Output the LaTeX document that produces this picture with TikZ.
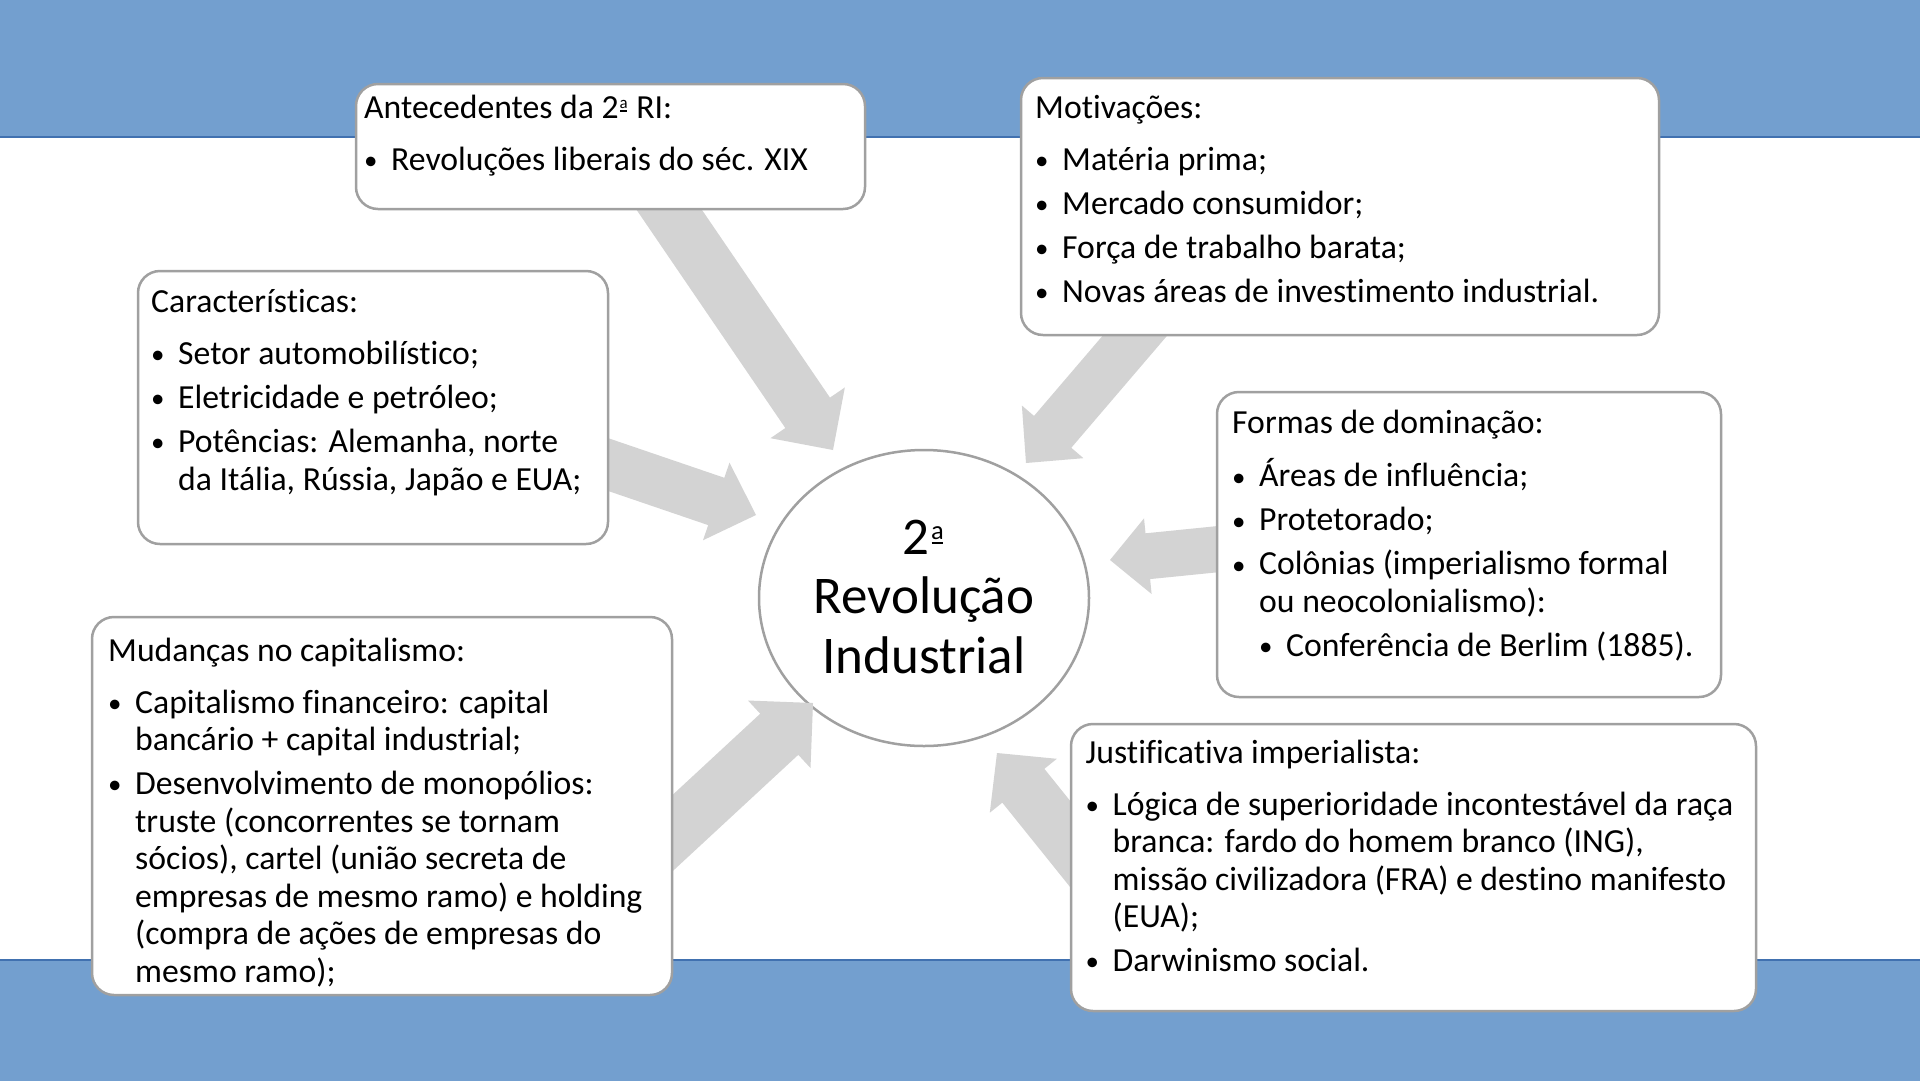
\documentclass[tikz,border=0pt]{standalone}
\usepackage{fontspec}
\usepackage{graphicx}
\setmainfont{Carlito}[Ligatures=NoCommon]
\usetikzlibrary{calc,shapes.geometric}
\definecolor{bandblue}{RGB}{115,159,207}
\definecolor{bandline}{RGB}{65,113,176}
\definecolor{boxline}{RGB}{160,160,160}
\definecolor{arrowgray}{RGB}{211,211,211}
\tikzset{
  band/.style={fill=bandblue, draw=bandline, line width=1.5pt},
  infobox/.style={draw=boxline, fill=white, line width=2.5pt, rounded corners=22pt, inner sep=0pt, rectangle},
  hub/.style={ellipse, draw=boxline, fill=white, line width=2.5pt, inner sep=0pt},
  txt/.style={anchor=base west, inner sep=0pt, font=\fontsize{33.7pt}{37.5pt}\selectfont},
  hubtxt/.style={anchor=base, inner sep=0pt, font=\fontsize{53pt}{59.5pt}\selectfont},
  arrowfill/.style={fill=arrowgray, draw=none}
}
\newcommand{\bu}{\makebox[27pt][l]{\raisebox{0.02em}{\scalebox{0.8}{•}}}}
\newcommand{\ind}{\hspace*{27pt}}
% Calibri-style ordinal indicator (small raised a with underline)
\newcommand{\ordA}{\makebox[0.3em][c]{\rlap{\rule[0.19em]{0.22em}{0.035em}}\makebox[0.22em][c]{\raisebox{0.27em}{\scalebox{0.5}{a}}}}}
% #1 tail, #2 tip, #3 half shaft, #4 half head, #5 head length
\newcommand{\blockarrow}[5]{%
  \coordinate (bah) at ($(#2)!#5!(#1)$);
  \fill[arrowfill] ($(#1)!#3!90:(#2)$) -- ($(bah)!#3!90:(#2)$) -- ($(bah)!#4!90:(#2)$) -- (#2)
    -- ($(bah)!#4!-90:(#2)$) -- ($(bah)!#3!-90:(#2)$) -- ($(#1)!#3!-90:(#2)$) -- cycle;}
\begin{document}
\begin{tikzpicture}[x=1pt,y=-1pt]
\useasboundingbox (0,0) rectangle (1920,1080);
\fill[white] (0,0) rectangle (1920,1080);
% bands
\path[band] (-2,-2) rectangle (1922,137);
\path[band] (-2,960) rectangle (1922,1082);

% hub
\node[hub, minimum width=330pt, minimum height=296pt] (hub) at (924,598) {};
\node[hubtxt] (hubtext) at (924,554) {\begin{tabular}[t]{@{}c@{}}2\ordA\\Revolução\\Industrial\end{tabular}};

% arrows
\coordinate (t1) at (653,186);  \coordinate (p1) at (833,450);
\coordinate (t2) at (586,457);  \coordinate (p2) at (756,515);
\coordinate (t3) at (1156,311); \coordinate (p3) at (1026,463);
\coordinate (t4) at (1249,546); \coordinate (p4) at (1110,560);
\coordinate (t5) at (637,866);  \coordinate (p5) at (813,703);
\coordinate (t6) at (1116,901); \coordinate (p6) at (997,753);
\blockarrow{t1}{p1}{27pt}{45pt}{45pt}
\blockarrow{t2}{p2}{25pt}{41pt}{42pt}
\blockarrow{t3}{p3}{24.5pt}{40.5pt}{41pt}
\blockarrow{t4}{p4}{23pt}{38pt}{38pt}
\blockarrow{t5}{p5}{28pt}{46pt}{46pt}
\blockarrow{t6}{p6}{27pt}{43pt}{42pt}

% boxes
\node[infobox, minimum width=509pt, minimum height=125pt] (bant) at (610.5,146.5) {};
\node[infobox, minimum width=470pt, minimum height=273pt] (bcar) at (373,407.5) {};
\node[infobox, minimum width=638pt, minimum height=257pt] (bmot) at (1340,206.5) {};
\node[infobox, minimum width=504pt, minimum height=305pt] (bfor) at (1469,544.5) {};
\node[infobox, minimum width=580pt, minimum height=378pt] (bmud) at (382,806) {};
\node[infobox, minimum width=685pt, minimum height=287pt] (bjus) at (1413.5,867.5) {};

% texts
\node[txt] (tant) at (364,118) {\begin{tabular}[t]{@{}l@{}}
Antecedentes da 2\ordA{} RI:\\[14.5pt]
\bu Revoluções liberais do séc. XIX
\end{tabular}};

\node[txt] (tcar) at (151,312.5) {\begin{tabular}[t]{@{}l@{}}
Características:\\[14.5pt]
\bu Setor automobilístico;\\[6.5pt]
\bu Eletricidade e petróleo;\\[6.5pt]
\bu Potências: Alemanha, norte\\
\ind da Itália, Rússia, Japão e EUA;
\end{tabular}};

\node[txt] (tmot) at (1035,118) {\begin{tabular}[t]{@{}l@{}}
Motivações:\\[14.5pt]
\bu Matéria prima;\\[6.5pt]
\bu Mercado consumidor;\\[6.5pt]
\bu Força de trabalho barata;\\[6.5pt]
\bu Novas áreas de investimento industrial.
\end{tabular}};

\node[txt] (tfor) at (1232,433) {\begin{tabular}[t]{@{}l@{}}
Formas de dominação:\\[14.5pt]
\bu Áreas de influência;\\[6.5pt]
\bu Protetorado;\\[6.5pt]
\bu Colônias (imperialismo formal\\
\ind ou neocolonialismo):\\[6.5pt]
\ind\bu Conferência de Berlim (1885).
\end{tabular}};

\node[txt] (tmud) at (108,661) {\begin{tabular}[t]{@{}l@{}}
Mudanças no capitalismo:\\[14.5pt]
\bu Capitalismo financeiro: capital\\
\ind bancário + capital industrial;\\[6.5pt]
\bu Desenvolvimento de monopólios:\\
\ind truste (concorrentes se tornam\\
\ind sócios), cartel (união secreta de\\
\ind empresas de mesmo ramo) e holding\\
\ind (compra de ações de empresas do\\
\ind mesmo ramo);
\end{tabular}};

\node[txt] (tjus) at (1085.5,763) {\begin{tabular}[t]{@{}l@{}}
Justificativa imperialista:\\[14.5pt]
\bu Lógica de superioridade incontestável da raça\\
\ind branca: fardo do homem branco (ING),\\
\ind missão civilizadora (FRA) e destino manifesto\\
\ind (EUA);\\[6.5pt]
\bu Darwinismo social.
\end{tabular}};
\end{tikzpicture}
\end{document}
